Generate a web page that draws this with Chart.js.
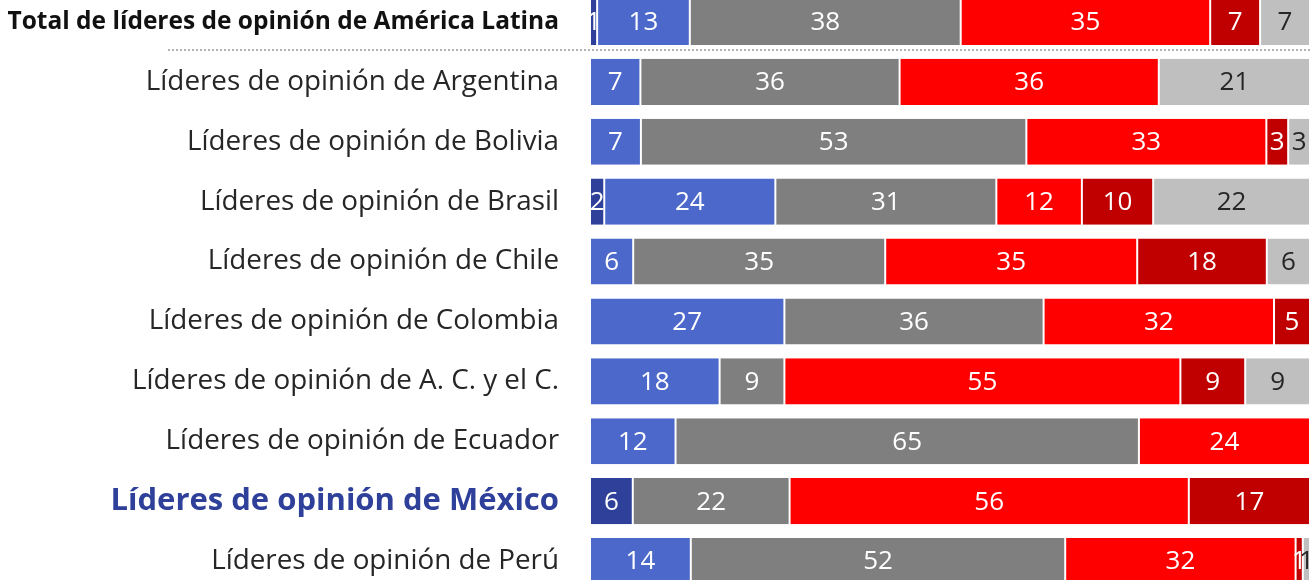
<!DOCTYPE html>
<html>
<head>
<meta charset="utf-8">
<script src="https://cdn.jsdelivr.net/npm/chart.js@4"></script>
<style>
  html, body { margin: 0; padding: 0; background: #fff; overflow: hidden; }
  #wrap { position: absolute; left: 0; top: -8px; width: 1311px; height: 599px; }
</style>
</head>
<body>
<div id="wrap"><canvas id="barChart"></canvas></div>
<script>
var categories = [
  "Total de líderes de opinión de América Latina",
  "Líderes de opinión de Argentina",
  "Líderes de opinión de Bolivia",
  "Líderes de opinión de Brasil",
  "Líderes de opinión de Chile",
  "Líderes de opinión de Colombia",
  "Líderes de opinión de A. C. y el C.",
  "Líderes de opinión de Ecuador",
  "Líderes de opinión de México",
  "Líderes de opinión de Perú"
];
var darkBlueValues  = [1, 0, 0, 2, 0, 0, 0, 0, 6, 0];
var blueValues      = [13, 7, 7, 24, 6, 27, 18, 12, 0, 14];
var grayValues      = [38, 36, 53, 31, 35, 36, 9, 65, 22, 52];
var redValues       = [35, 36, 33, 12, 35, 32, 55, 24, 56, 32];
var darkRedValues   = [7, 0, 3, 10, 18, 5, 9, 0, 17, 1];
var lightGrayValues = [7, 21, 3, 22, 6, 0, 9, 0, 0, 1];

var series = [darkBlueValues, blueValues, grayValues, redValues, darkRedValues, lightGrayValues];
var colors = ["#2E4099", "#4B68CA", "#7F7F7F", "#FF0000", "#C00000", "#BFBFBF"];
var labelColors = ["#fff", "#fff", "#fff", "#fff", "#fff", "#262626"];

// row totals, used to stretch every bar to 100%
var totals = categories.map(function(c, i) {
  return series.reduce(function(s, arr) { return s + arr[i]; }, 0);
});

var datasets = series.map(function(arr, k) {
  return {
    data: arr.map(function(v, i) { return v / totals[i] * 100; }),
    raw: arr,
    backgroundColor: colors[k],
    borderColor: "#fff",
    borderWidth: {left: 1, right: 1, top: 0, bottom: 0},
    borderSkipped: false,
    barPercentage: 0.77,
    categoryPercentage: 1
  };
});

var valueLabels = {
  id: "valueLabels",
  afterDatasetsDraw: function(chart) {
    var ctx = chart.ctx;
    ctx.save();
    ctx.font = "26px 'Open Sans'";
    ctx.textAlign = "center";
    ctx.textBaseline = "middle";
    chart.data.datasets.forEach(function(ds, k) {
      var meta = chart.getDatasetMeta(k);
      meta.data.forEach(function(bar, i) {
        var v = ds.raw[i];
        if (!v) return;
        ctx.fillStyle = labelColors[k];
        ctx.fillText(String(v), (bar.x + bar.base) / 2, bar.y + 1);
      });
    });
    // dotted separator under the total row
    var y = chart.scales.y;
    var yy = (y.getPixelForValue(0) + y.getPixelForValue(1)) / 2 - 2;
    ctx.strokeStyle = "#9A9A9A";
    ctx.lineWidth = 1.5;
    ctx.setLineDash([2, 2]);
    ctx.beginPath();
    ctx.moveTo(168, yy);
    ctx.lineTo(chart.width, yy);
    ctx.stroke();
    ctx.restore();
  }
};

new Chart(document.getElementById("barChart"), {
  type: "bar",
  data: { labels: categories, datasets: datasets },
  options: {
    indexAxis: "y",
    responsive: true,
    maintainAspectRatio: false,
    animation: false,
    layout: { padding: { left: 0, right: 1, top: 0, bottom: 0 } },
    plugins: { legend: { display: false }, tooltip: { enabled: false } },
    scales: {
      x: { stacked: true, min: 0, max: 100, display: false },
      y: {
        stacked: true,
        grid: { display: false },
        border: { display: false },
        afterFit: function(scale) {
          scale.width = 590;
          scale.paddingTop = 0;
          scale.paddingBottom = 0;
        },
        ticks: {
          padding: 23,
          color: function(c) {
            if (c.index === 8) return "#2E4099";
            return c.index === 0 ? "#111" : "#262626";
          },
          font: function(c) {
            if (c.index === 0) return { family: "'Open Sans'", size: 24.5, weight: "bold" };
            if (c.index === 8) return { family: "'Open Sans'", size: 31, weight: "bold" };
            return { family: "'Open Sans'", size: 27.8 };
          }
        }
      }
    }
  },
  plugins: [valueLabels]
});
</script>
</body>
</html>
